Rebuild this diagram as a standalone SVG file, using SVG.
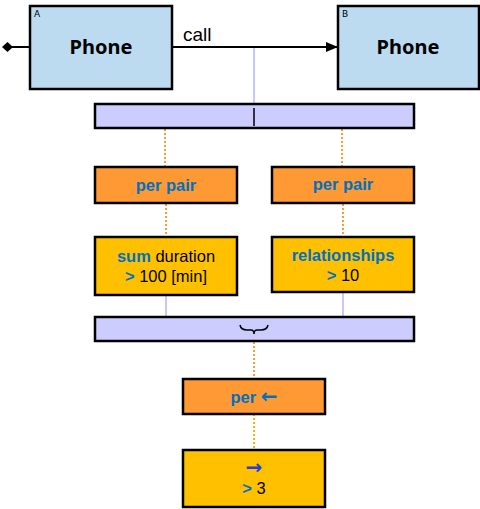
<svg xmlns="http://www.w3.org/2000/svg" width="480" height="509" viewBox="0 0 480 509">
<defs>
<marker id="arr" markerWidth="12" markerHeight="10" refX="11" refY="5" orient="auto" markerUnits="userSpaceOnUse"><path d="M0,0 L12,5 L0,10 Z" fill="#000"/></marker>
</defs>
<style>
.cls{fill:#BDDBF0;stroke:#000;stroke-width:2.5}
.bar{fill:#CCCCFF;stroke:#000;stroke-width:2.5}
.org{fill:#FF9933;stroke:#000;stroke-width:2.5}
.yel{fill:#FFC000;stroke:#000;stroke-width:2.5}
.big{font-family:"Noto Sans","DejaVu Sans",sans-serif;font-weight:bold;font-size:20px;text-anchor:middle;fill:#000}
.sm{font-family:"DejaVu Sans",sans-serif;font-size:9px;fill:#000}
.t{font-family:"Liberation Sans",Arial,sans-serif;font-size:16.5px;text-anchor:middle;fill:#000}
.b{fill:#0070C0;font-weight:bold}
.ar{font-family:"DejaVu Sans",sans-serif;font-weight:bold;font-size:20px}
.ar2{font-family:"DejaVu Sans",sans-serif;font-weight:bold;font-size:20px;fill:#2040D8;text-anchor:middle}
.lav{stroke:#C8C8FF;stroke-width:2;fill:none}
.dot{stroke:#FF9933;stroke-width:2;stroke-dasharray:2 2;fill:none}
</style>
<g id="connectors">
<polygon points="2,47 7.5,42 13,47 7.5,52" fill="#000"/>
<line x1="12" y1="47" x2="30" y2="47" stroke="#000" stroke-width="2"/>
<line x1="172" y1="47" x2="337" y2="47" stroke="#000" stroke-width="2" marker-end="url(#arr)"/>
<text x="183" y="41" font-family="Liberation Sans,Arial,sans-serif" font-size="19">call</text>
<line class="lav" x1="254" y1="48" x2="254" y2="104"/>
<line class="dot" x1="165" y1="129" x2="165" y2="167"/>
<line class="dot" x1="342" y1="129" x2="342" y2="167"/>
<line class="dot" x1="166" y1="204" x2="166" y2="237"/>
<line class="dot" x1="343" y1="204" x2="343" y2="237"/>
<line class="lav" x1="166" y1="296" x2="166" y2="317"/>
<line class="lav" x1="343" y1="293" x2="343" y2="317"/>
<line class="dot" x1="254" y1="342" x2="254" y2="379"/>
<line x1="254" y1="414" x2="254" y2="450" stroke="#FFB000" stroke-width="2" stroke-dasharray="2 2"/>
</g>
<g id="phoneA">
<rect class="cls" x="30" y="6" width="142" height="83"/>
<text class="sm" x="34" y="17">A</text>
<text class="big" x="101" y="54">Phone</text>
</g>
<g id="phoneB">
<rect class="cls" x="338" y="6" width="141" height="83"/>
<text class="sm" x="342" y="17">B</text>
<text class="big" x="408" y="54">Phone</text>
</g>
<g id="bar1">
<rect class="bar" x="95" y="104" width="319" height="24"/>
<line x1="254" y1="108" x2="254" y2="126" stroke="#000" stroke-width="1.5"/>
</g>
<g id="perpairL">
<rect class="org" x="95" y="167" width="142" height="36"/>
<text class="t b" x="166" y="191">per pair</text>
</g>
<g id="perpairR">
<rect class="org" x="272" y="167" width="142" height="36"/>
<text class="t b" x="343" y="190">per pair</text>
</g>
<g id="sumdur">
<rect class="yel" x="95" y="237" width="142" height="58"/>
<text class="t" x="166" y="262"><tspan class="b">sum</tspan> duration</text>
<text class="t" x="166" y="282"><tspan class="b">&gt;</tspan> 100 [min]</text>
</g>
<g id="rels">
<rect class="yel" x="272" y="237" width="142" height="55"/>
<text class="t" x="343" y="261"><tspan class="b">relationships</tspan></text>
<text class="t" x="343" y="281"><tspan class="b">&gt;</tspan> 10</text>
</g>
<g id="bar2">
<rect class="bar" x="95" y="317" width="319" height="24"/>
<path d="M240,325 Q241,330 247,330 L251,330 Q254,330 254,334 Q254,330 257,330 L261,330 Q267,330 268,325" fill="none" stroke="#000" stroke-width="1.5"/>
</g>
<g id="perArrow">
<rect class="org" x="183" y="379" width="142" height="35"/>
<text class="t b" x="254" y="403">per <tspan class="ar">←</tspan></text>
</g>
<g id="gt3">
<rect class="yel" x="183" y="450" width="142" height="57"/>
<text class="ar2" x="254" y="474">→</text>
<text class="t" x="254" y="494"><tspan class="b">&gt;</tspan> 3</text>
</g>
</svg>
